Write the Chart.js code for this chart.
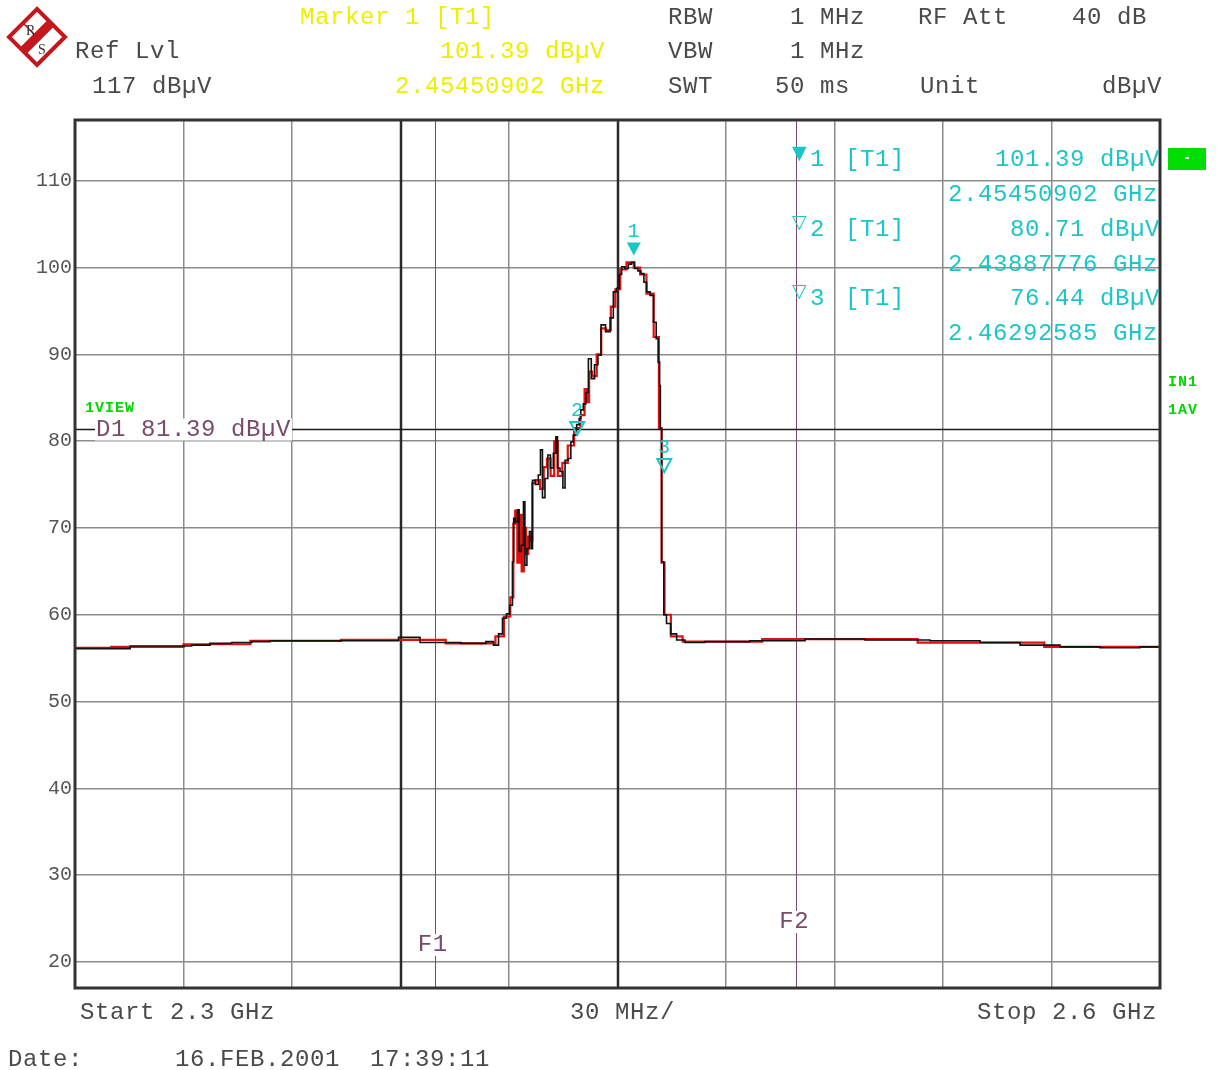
<!DOCTYPE html>
<html>
<head>
<meta charset="utf-8">
<script src="https://cdn.jsdelivr.net/npm/chart.js@4.4.1/dist/chart.umd.min.js"></script>
<style>
  body { margin: 0; background: #fff; }
  #wrap { position: relative; width: 1217px; height: 1070px; overflow: hidden; }
  #chart { position: absolute; left: 0; top: 0; }
  .t { position: absolute; font-family: "Liberation Mono", monospace; font-size: 24px; letter-spacing: 0.6px;
       line-height: 28px; height: 28px; white-space: pre; color: #4a4a4a; }
  .y { color: #eeee00; }
  .c { color: #1cc6c6; }
  .g { color: #00d800; font-weight: bold; font-size: 15px; letter-spacing: 1px; }
  .tri { font-family: "DejaVu Sans", sans-serif; font-size: 19px; letter-spacing: 0; }
</style>
</head>
<body>
<div id="wrap">
  <canvas id="chart" width="1217" height="1070"></canvas>

  <svg style="position:absolute;left:6px;top:6px" width="62" height="62" viewBox="0 0 62 62">
    <polygon points="31,3 59,31 31,59 3,31" fill="#fff" stroke="#c4161c" stroke-width="4"/>
    <line x1="45" y1="17" x2="17" y2="45" stroke="#c4161c" stroke-width="9"/>
    <line x1="17" y1="17" x2="31" y2="31" stroke="#c4161c" stroke-width="1.5"/>
    <text x="20" y="29" font-family="Liberation Serif" font-size="14" fill="#333">R</text>
    <text x="32" y="48" font-family="Liberation Serif" font-size="14" fill="#333">S</text>
  </svg>

  <!-- header -->
  <div class="t y" style="left:300px;top:4px">Marker 1 [T1]</div>
  <div class="t" style="left:75px;top:38px">Ref Lvl</div>
  <div class="t y" style="right:612px;top:38px">101.39 dBµV</div>
  <div class="t" style="left:92px;top:73px">117 dBµV</div>
  <div class="t y" style="right:612px;top:73px">2.45450902 GHz</div>

  <div class="t" style="left:668px;top:4px">RBW</div>
  <div class="t" style="left:790px;top:4px">1 MHz</div>
  <div class="t" style="left:918px;top:4px">RF Att</div>
  <div class="t" style="left:1072px;top:4px">40 dB</div>
  <div class="t" style="left:668px;top:38px">VBW</div>
  <div class="t" style="left:790px;top:38px">1 MHz</div>
  <div class="t" style="left:668px;top:73px">SWT</div>
  <div class="t" style="left:775px;top:73px">50 ms</div>
  <div class="t" style="left:920px;top:73px">Unit</div>
  <div class="t" style="right:55px;top:73px">dBµV</div>

  <!-- marker table -->
  <div class="t c tri" style="left:792px;top:138px">▼</div>
  <div class="t c" style="left:810px;top:146px">1</div>
  <div class="t c" style="left:845px;top:146px">[T1]</div>
  <div class="t c" style="right:57px;top:146px">101.39 dBµV</div>
  <div class="t c" style="right:59px;top:181px">2.45450902 GHz</div>
  <div class="t c tri" style="left:792px;top:207px">▽</div>
  <div class="t c" style="left:810px;top:216px">2</div>
  <div class="t c" style="left:845px;top:216px">[T1]</div>
  <div class="t c" style="right:57px;top:216px">80.71 dBµV</div>
  <div class="t c" style="right:59px;top:251px">2.43887776 GHz</div>
  <div class="t c tri" style="left:792px;top:276px">▽</div>
  <div class="t c" style="left:810px;top:285px">3</div>
  <div class="t c" style="left:845px;top:285px">[T1]</div>
  <div class="t c" style="right:57px;top:285px">76.44 dBµV</div>
  <div class="t c" style="right:59px;top:320px">2.46292585 GHz</div>

  <div style="position:absolute;left:1168px;top:148px;width:38px;height:22px;background:#00dd00"></div>
  <div style="position:absolute;left:1185px;top:157px;width:4px;height:2px;background:#eee"></div>
  <div class="t g" style="left:1168px;top:369px">IN1</div>
  <div class="t g" style="left:1168px;top:397px">1AV</div>
  <div class="t g" style="left:85px;top:395px">1VIEW</div>

  <!-- footer -->
  <div class="t" style="left:80px;top:999px">Start 2.3 GHz</div>
  <div class="t" style="left:570px;top:999px">30 MHz/</div>
  <div class="t" style="right:60px;top:999px">Stop 2.6 GHz</div>
  <div class="t" style="left:8px;top:1046px">Date:</div>
  <div class="t" style="left:175px;top:1046px">16.FEB.2001  17:39:11</div>
</div>

<script>
// trace 1 (schwarz) - Frequenz in MHz, Pegel in dBµV
const traceFreq = [2300, 2311.1, 2319.4, 2329.9, 2334.6, 2340.1, 2346.5, 2351.2, 2356.7, 2373.3,
  2389.0, 2389.9, 2400.9, 2412.5, 2414.7, 2416.7, 2417.5, 2418.9, 2419.7, 2420.7,
  2421.2, 2421.4, 2422.1, 2422.6, 2423.0, 2423.8, 2424.2, 2424.6, 2425.3, 2426.0,
  2426.3, 2426.7, 2427.8, 2428.4, 2429.0, 2429.5, 2430.4, 2431.1, 2431.8, 2432.7,
  2433.2, 2433.6, 2434.6, 2435.2, 2435.8, 2436.9, 2437.3, 2438.2, 2439.2, 2439.6,
  2440.1, 2441.0, 2441.5, 2442.4, 2443.1, 2444.2, 2445.0, 2445.9, 2447.5, 2448.4,
  2449.3, 2450.2, 2450.7, 2451.6, 2452.5, 2453.5, 2454.2, 2455.3, 2456.0, 2457.0,
  2457.6, 2458.5, 2459.5, 2460.4, 2461.0, 2461.5, 2461.8, 2461.9, 2462.5, 2463.1,
  2464.0, 2465.4, 2467.3, 2470.0, 2478.3, 2494.9, 2508.8, 2528.1, 2544.7, 2555.8,
  2566.8, 2577.9, 2588.9, 2600];
const traceLevel = [56.1, 56.1, 56.4, 56.4, 56.5, 56.7, 56.8, 56.9, 57.0, 57.0,
  57.0, 57.4, 56.8, 56.7, 56.9, 56.5, 57.8, 59.6, 60.1, 61.1,
  66.1, 71.1, 70.7, 72.1, 67.3, 68.0, 73.0, 65.7, 67.6, 69.6,
  67.6, 75.5, 75.0, 76.1, 79.0, 73.5, 75.7, 78.4, 76.9, 78.6,
  80.5, 76.9, 76.5, 74.6, 77.8, 78.0, 79.9, 80.7, 81.9, 82.6,
  83.6, 84.3, 85.6, 89.5, 87.2, 88.8, 89.9, 93.4, 92.6, 94.2,
  97.2, 97.6, 99.2, 100.1, 99.9, 100.4, 100.6, 99.9, 99.6, 99.3,
  98.3, 97.2, 96.8, 93.7, 91.8, 89.1, 86.4, 81.4, 66.1, 60.0,
  59.0, 57.8, 57.1, 56.8, 56.9, 57.0, 57.2, 57.1, 57.0, 56.8,
  56.5, 56.3, 56.2, 56.3];

// trace 2 (rot)
const trace2Freq = [2300, 2320, 2340, 2357, 2390, 2415, 2417.5, 2419.7, 2421, 2421.4,
  2422, 2422.6, 2423.2, 2423.8, 2424.4, 2425, 2425.6, 2426.2, 2426.7, 2428,
  2429.2, 2430, 2431, 2432, 2433, 2434, 2435.5, 2437, 2439, 2440.5,
  2441.3, 2441.8, 2442.5, 2443.5, 2445, 2446, 2447.5, 2448.8, 2450, 2451.5,
  2453.5, 2455.5, 2457, 2459, 2461, 2461.9, 2462.5, 2463.5, 2466, 2470,
  2510, 2556, 2580, 2600];
const trace2Level = [56.2, 56.3, 56.6, 57.0, 57.1, 56.7, 57.5, 59.8, 62.0, 70.5,
  72.0, 66.0, 71.5, 65.0, 70.0, 67.0, 69.0, 68.5, 75.2, 75.5,
  74.5, 77.0, 78.0, 76.0, 80.0, 76.0, 77.5, 79.5, 81.5, 83.0,
  86.0, 84.5, 88.0, 87.5, 90.0, 93.0, 92.8, 95.5, 97.5, 99.8,
  100.6, 100.0, 99.2, 97.0, 92.0, 81.5, 66.0, 60.0, 57.5, 56.9,
  57.2, 56.8, 56.3, 56.3];

const xGrid = [2300, 2330, 2360, 2390, 2420, 2450, 2480, 2510, 2540, 2570, 2600];
const yTicks = [20, 30, 40, 50, 60, 70, 80, 90, 100, 110];

// Marker
const markerNames = ['1', '2', '3'];
const markerFreq = [2454.50902, 2438.87776, 2462.92585];
const markerLevel = [101.39, 80.71, 76.44];

const darkLines = [2390, 2450];
const freqLines = [2400, 2500];
const freqLineNames = ['F1', 'F2'];
const displayLine = 81.39;

const MONO = '"Liberation Mono", monospace';

const spectrumPlugin = {
  id: 'spectrumMarks',
  beforeDatasetsDraw(chart) {
    const { ctx, chartArea: a, scales: { x, y } } = chart;
    ctx.save();
    ctx.strokeStyle = '#2a2a2a';
    ctx.lineWidth = 2.5;
    darkLines.forEach(f => {
      const px = Math.round(x.getPixelForValue(f));
      ctx.beginPath(); ctx.moveTo(px, a.top); ctx.lineTo(px, a.bottom); ctx.stroke();
    });
    ctx.strokeStyle = '#7a4a6c';
    ctx.lineWidth = 1;
    freqLines.forEach(f => {
      const px = Math.round(x.getPixelForValue(f)) - 1.5;
      ctx.beginPath(); ctx.moveTo(px, a.top); ctx.lineTo(px, a.bottom); ctx.stroke();
    });
    ctx.restore();
  },
  afterDatasetsDraw(chart) {
    const { ctx, chartArea: a, scales: { x, y } } = chart;
    ctx.save();

    // D1 Linie
    const dy = Math.round(y.getPixelForValue(displayLine)) + 0.5;
    ctx.strokeStyle = '#1a1a1a';
    ctx.lineWidth = 1.5;
    ctx.beginPath(); ctx.moveTo(a.left, dy); ctx.lineTo(a.right, dy); ctx.stroke();
    ctx.font = '24px ' + MONO;
    ctx.letterSpacing = '0.6px';
    ctx.textBaseline = 'middle';
    ctx.textAlign = 'left';
    const d1 = 'D1 ' + displayLine.toFixed(2) + ' dBµV';
    const w = ctx.measureText(d1).width;
    ctx.fillStyle = '#fff';
    ctx.fillRect(a.left + 20, dy - 11, w + 2, 22);
    ctx.fillStyle = '#7a4a6c';
    ctx.fillText(d1, a.left + 21, dy);

    // F1 / F2 Beschriftung
    freqLines.forEach((f, i) => {
      const px = x.getPixelForValue(f) - 2;
      const py = i === 0 ? 945 : 922;
      ctx.fillStyle = '#fff';
      ctx.fillRect(px - 16, py - 11, 32, 22);
      ctx.fillStyle = '#7a4a6c';
      ctx.textAlign = 'center';
      ctx.fillText(freqLineNames[i], px - 2, py);
    });

    // Rahmen
    ctx.strokeStyle = '#333';
    ctx.lineWidth = 3;
    ctx.strokeRect(a.left, a.top, a.right - a.left, a.bottom - a.top);

    // Marker-Dreiecke
    ctx.strokeStyle = '#1cc6c6';
    ctx.fillStyle = '#1cc6c6';
    ctx.lineWidth = 2;
    markerFreq.forEach((f, i) => {
      const px = x.getPixelForValue(f);
      const py = y.getPixelForValue(markerLevel[i]);
      ctx.beginPath();
      ctx.moveTo(px, py);
      ctx.lineTo(px - 7, py - 13);
      ctx.lineTo(px + 7, py - 13);
      ctx.closePath();
      if (i === 0) ctx.fill(); else ctx.stroke();
      ctx.font = '20px ' + MONO;
      ctx.textAlign = 'center';
      ctx.fillText(markerNames[i], px, py - 24);
    });
    ctx.restore();
  }
};

new Chart(document.getElementById('chart').getContext('2d'), {
  type: 'line',
  data: {
    datasets: [{
      label: 'Trace 1',
      data: traceFreq.map((f, i) => ({ x: f, y: traceLevel[i] })),
      borderColor: '#111',
      borderWidth: 1.6,
      pointRadius: 0,
      stepped: 'middle'
    }, {
      label: 'Trace 2',
      data: trace2Freq.map((f, i) => ({ x: f, y: trace2Level[i] })),
      borderColor: '#e01010',
      borderWidth: 2.2,
      pointRadius: 0,
      stepped: 'middle',
      order: 2
    }]
  },
  options: {
    responsive: false,
    animation: false,
    devicePixelRatio: 1,
    layout: { padding: { top: 120, right: 57, left: 0, bottom: 0 } },
    plugins: { legend: { display: false }, tooltip: { enabled: false } },
    scales: {
      x: {
        type: 'linear', min: 2300, max: 2600,
        afterBuildTicks: s => { s.ticks = xGrid.map(v => ({ value: v })); },
        afterFit: s => { s.height = 82; },
        ticks: { display: false },
        grid: { color: '#8c8c8c', lineWidth: 1.5, drawTicks: false },
        border: { display: false }
      },
      y: {
        type: 'linear', min: 17, max: 117,
        afterBuildTicks: s => { s.ticks = yTicks.map(v => ({ value: v })); },
        afterFit: s => { s.width = 75; },
        ticks: { font: { family: 'Liberation Mono', size: 20 }, color: '#555', padding: 3 },
        grid: { color: '#8c8c8c', lineWidth: 1.5, drawTicks: false },
        border: { display: false }
      }
    }
  },
  plugins: [spectrumPlugin]
});
</script>
</body>
</html>
